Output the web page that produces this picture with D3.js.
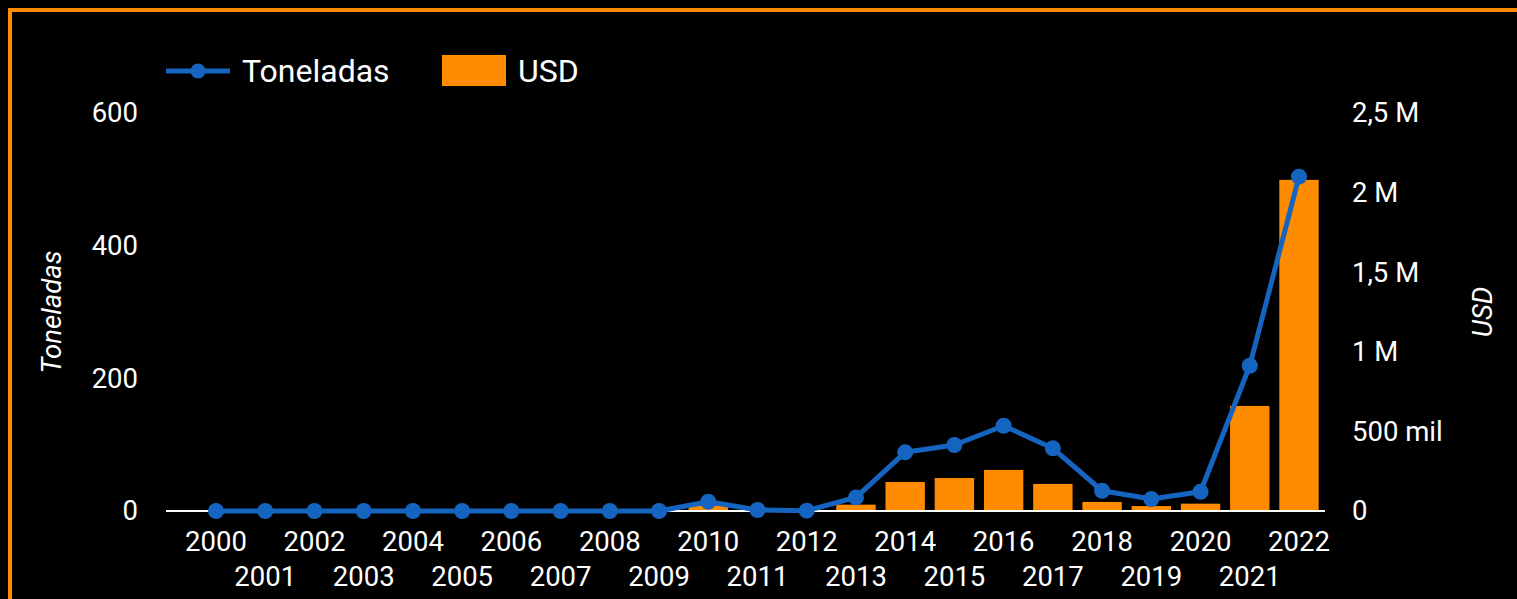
<!DOCTYPE html>
<html>
<head>
<meta charset="utf-8">
<script src="https://cdn.jsdelivr.net/npm/d3@7"></script>
<style>
  html, body { margin: 0; padding: 0; background: #000; overflow: hidden; }
  svg { display: block; }
  text { font-family: Roboto, "Noto Sans", sans-serif; fill: #fff; }
</style>
</head>
<body>
<svg id="chart" width="1517" height="599"></svg>
<script>
// ---- data ----
const years = ["2000","2001","2002","2003","2004","2005","2006","2007","2008","2009","2010","2011","2012","2013","2014","2015","2016","2017","2018","2019","2020","2021","2022"];
const toneladas = [0,0,0,0,0,0,0,0,0,0,14,1.5,0.5,20.5,88.5,99.5,128.5,94.5,30.5,18,29,219,504];
const usd = [0,0,0,0,0,0,0,0,0,0,36000,0,0,40000,182000,207000,258000,170000,57000,31000,46000,660000,2080000];
const leftTicks = [0,200,400,600];
const rightTicks = [0,500000,1000000,1500000,2000000,2500000];
const rightTickLabels = ["0","500 mil","1 M","1,5 M","2 M","2,5 M"];
const seriesNames = ["Toneladas","USD"];
const axisTitles = ["Toneladas","USD"];

// ---- styles ----
const lineColor = "#1565C0";
const barColor = "#FF8C00";
const borderColor = "#FF8C00";

const svg = d3.select("#chart");
svg.append("rect").attr("x",0).attr("y",0).attr("width",1517).attr("height",599).attr("fill","#000");
svg.append("rect").attr("x",10).attr("y",10).attr("width",1700).attr("height",800)
  .attr("fill","none").attr("stroke",borderColor).attr("stroke-width",4);

const yBase = 511, yTop = 113;
const x = d3.scaleBand().domain(years).range([191.4, 1323.6]).paddingInner(0.2).paddingOuter(0.1);
const yL = d3.scaleLinear().domain([0,600]).range([yBase, yTop]);
const yR = d3.scaleLinear().domain([0,2500000]).range([yBase, yTop]);
const cx = d => x(d) + x.bandwidth()/2;

// bars
svg.append("g").selectAll("rect").data(years).join("rect")
  .attr("x", d => x(d))
  .attr("width", x.bandwidth())
  .attr("y", (d,i) => yR(usd[i]))
  .attr("height", (d,i) => yBase - yR(usd[i]))
  .attr("fill", barColor);

// baseline
svg.append("line").attr("x1",166).attr("x2",1325).attr("y1",yBase).attr("y2",yBase)
  .attr("stroke","#fff").attr("stroke-width",2);

// line
const lineGen = d3.line().x((d,i) => cx(years[i])).y(d => yL(d));
svg.append("path").datum(toneladas).attr("d", lineGen)
  .attr("fill","none").attr("stroke",lineColor).attr("stroke-width",5).attr("stroke-linejoin","round");
svg.append("g").selectAll("circle").data(toneladas).join("circle")
  .attr("cx",(d,i) => cx(years[i])).attr("cy", d => yL(d)).attr("r",8).attr("fill",lineColor);

// left axis
const fs = 27.5;
const gL = svg.append("g").attr("transform","translate(138,0)")
  .call(d3.axisLeft(yL).tickValues(leftTicks).tickSize(0).tickPadding(0));
gL.select(".domain").remove();
gL.selectAll("text").attr("font-size",fs).attr("font-family","Roboto").attr("fill","#fff");

// right axis
const gR = svg.append("g").attr("transform","translate(1352,0)")
  .call(d3.axisRight(yR).tickValues(rightTicks).tickFormat((d,i) => rightTickLabels[i]).tickSize(0).tickPadding(0));
gR.select(".domain").remove();
gR.selectAll("text").attr("font-size",fs).attr("font-family","Roboto").attr("fill","#fff");

// x axis labels (staggered)
const gX = svg.append("g").attr("transform",`translate(0,${yBase})`)
  .call(d3.axisBottom(x).tickSize(0).tickPadding(0));
gX.select(".domain").remove();
gX.selectAll("text").attr("font-size",fs).attr("font-family","Roboto").attr("fill","#fff")
  .attr("dy",null)
  .attr("dominant-baseline","central")
  .attr("y",(d,i) => i % 2 === 0 ? 30 : 65);

// axis titles
svg.append("text").attr("transform","translate(51,312) rotate(-90)")
  .attr("text-anchor","middle").attr("dominant-baseline","central")
  .attr("font-size",fs).attr("font-style","italic").text(axisTitles[0]);
svg.append("text").attr("transform","translate(1482,312) rotate(-90)")
  .attr("text-anchor","middle").attr("dominant-baseline","central")
  .attr("font-size",fs).attr("font-style","italic").text(axisTitles[1]);

// legend
const lg = svg.append("g");
lg.append("line").attr("x1",166).attr("x2",230).attr("y1",71).attr("y2",71)
  .attr("stroke",lineColor).attr("stroke-width",5);
lg.append("circle").attr("cx",198).attr("cy",71).attr("r",7.5).attr("fill",lineColor);
lg.append("text").attr("x",242).attr("y",71).attr("dominant-baseline","central")
  .attr("font-size",32).text(seriesNames[0]);
lg.append("rect").attr("x",442).attr("y",55).attr("width",64).attr("height",31).attr("fill",barColor);
lg.append("text").attr("x",518).attr("y",71).attr("dominant-baseline","central")
  .attr("font-size",32).text(seriesNames[1]);
</script>
</body>
</html>
